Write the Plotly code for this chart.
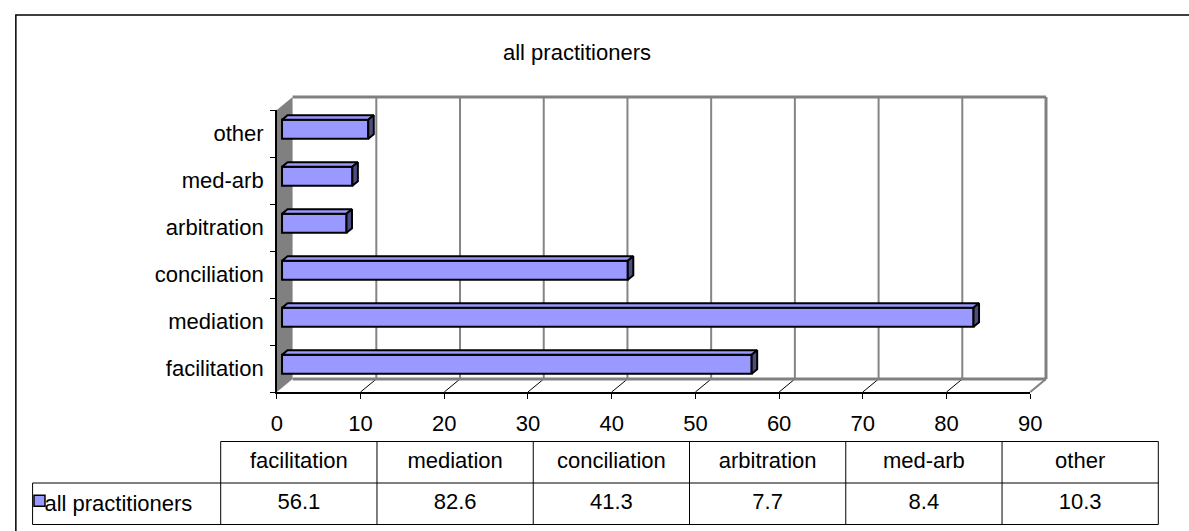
import plotly.graph_objects as go

# ---- data -------------------------------------------------------------
categories = ["facilitation", "mediation", "conciliation", "arbitration", "med-arb", "other"]
values = [56.1, 82.6, 41.3, 7.7, 8.4, 10.3]
series_name = "all practitioners"
x_ticks = [0, 10, 20, 30, 40, 50, 60, 70, 80, 90]

# ---- styling / geometry ------------------------------------------------
W, H = 1189, 531
FONT = "Liberation Sans, Arial, sans-serif"
FS = 22
BAR = "#9999FF"
BAR_SIDE = "#4D4D80"
WALL = "#808080"

PX0, PX1 = 275, 1040      # front plane: pixel x of value 0 and of the axis maximum
PY0, PY1 = 392, 110       # front plane: pixel y of the bottom and top category edges
XMAX = x_ticks[-1]
NCAT = len(categories)
SX = (PX1 - PX0) / XMAX   # pixels per value unit
SY = (PY0 - PY1) / NCAT   # pixels per category band

DX = 16 / SX              # full depth of the box, in axis units
DY = 13 / SY
BAR_T0, BAR_T1 = 0.33, 0.68   # bar front/back as fraction of depth
BAR_H = 19 / SY               # bar thickness in category units

# table grid
TX0, TW = 218, 158.67     # left edge of first data column, column width (px)
TY0, TH = 524.5, 41.5     # bottom of the table, row height (px)
LEGEND_W = (TX0 - 27) / TW

fig = go.Figure()


def line(xs, ys, color, width, axes=("x", "y")):
    fig.add_trace(go.Scatter(x=xs, y=ys, mode="lines", line=dict(color=color, width=width),
                             hoverinfo="skip", xaxis=axes[0], yaxis=axes[1]))


def poly(xs, ys, fill, outline=None, width=0, axes=("x", "y")):
    fig.add_trace(go.Scatter(x=xs + [xs[0]], y=ys + [ys[0]], mode="lines", fill="toself",
                             fillcolor=fill,
                             line=dict(color=outline or fill, width=width),
                             hoverinfo="skip", xaxis=axes[0], yaxis=axes[1]))


# ---- 3D box: left wall, floor, back wall ------------------------------
poly([0, 0, DX, DX], [0, NCAT, NCAT + DY, DY], WALL)
for v in x_ticks[1:-1]:
    line([v + DX, v + DX], [DY, NCAT + DY], "#858585", 2)
    line([v, v + DX], [0, DY], "black", 1)
line([DX, XMAX + DX], [DY, DY], WALL, 3)
line([DX, XMAX + DX], [NCAT + DY, NCAT + DY], WALL, 3)
line([XMAX + DX, XMAX + DX], [DY, NCAT + DY], WALL, 3)
line([XMAX, XMAX + DX], [0, DY], WALL, 2)

# ---- bars (front face + top + side) on the labelled axes ----------------
b0 = BAR_T0 * DX
ddx = (BAR_T1 - BAR_T0) * DX
ddy = (BAR_T1 - BAR_T0) * DY
centers = [i + 0.5 + BAR_T0 * DY for i in range(NCAT)]
fig.add_trace(go.Bar(y=centers, x=values, base=b0, orientation="h", width=BAR_H,
                     marker=dict(color=BAR, line=dict(color="black", width=2)),
                     hoverinfo="skip", xaxis="x2", yaxis="y2"))
for c, v in zip(centers, values):
    top, bot = c + BAR_H / 2, c - BAR_H / 2
    poly([b0, b0 + ddx, b0 + v + ddx, b0 + v], [top, top + ddy, top + ddy, top],
         BAR, "black", 2, axes=("x2", "y2"))
    poly([b0 + v, b0 + v + ddx, b0 + v + ddx, b0 + v], [bot, bot + ddy, top + ddy, top],
         BAR_SIDE, "black", 2, axes=("x2", "y2"))

# ---- data table ---------------------------------------------------------
ncol = len(categories)
line([0, ncol], [2, 2], "black", 1, axes=("x3", "y3"))
line([-LEGEND_W, ncol], [1, 1], "black", 1, axes=("x3", "y3"))
line([-LEGEND_W, ncol], [0, 0], "black", 1, axes=("x3", "y3"))
for j in range(ncol + 1):
    line([j, j], [0, 2], "black", 1, axes=("x3", "y3"))
line([-LEGEND_W, -LEGEND_W], [0, 1], "black", 1, axes=("x3", "y3"))

fig.add_trace(go.Scatter(x=[j + 0.5 for j in range(ncol)], y=[1.5] * ncol, mode="text",
                         text=categories, textposition="middle center",
                         textfont=dict(family=FONT, size=FS, color="black"),
                         hoverinfo="skip", xaxis="x3", yaxis="y3"))
fig.add_trace(go.Scatter(x=[j + 0.5 for j in range(ncol)], y=[0.5] * ncol, mode="text",
                         text=[f"{v:.1f}" for v in values], textposition="middle center",
                         textfont=dict(family=FONT, size=FS, color="black"),
                         hoverinfo="skip", xaxis="x3", yaxis="y3"))
fig.add_trace(go.Scatter(x=[-LEGEND_W + 7 / TW], y=[0.57], mode="markers",
                         marker=dict(symbol="square", size=11, color=BAR,
                                     line=dict(color="black", width=1.5)),
                         hoverinfo="skip", xaxis="x3", yaxis="y3"))
fig.add_trace(go.Scatter(x=[-LEGEND_W + 12 / TW], y=[0.45], mode="text",
                         text=[series_name], textposition="middle right",
                         textfont=dict(family=FONT, size=FS, color="black"),
                         hoverinfo="skip", xaxis="x3", yaxis="y3"))

# ---- axes ---------------------------------------------------------------
hidden = dict(visible=False, fixedrange=True)
fig.update_layout(
    width=W, height=H, margin=dict(l=0, r=0, t=0, b=0),
    paper_bgcolor="white", plot_bgcolor="rgba(0,0,0,0)", showlegend=False,
    font=dict(family=FONT, size=FS, color="black"),
    # box geometry axes, spanning the whole figure
    xaxis=dict(domain=[0, 1], range=[-PX0 / SX, (W - PX0) / SX], anchor="y", **hidden),
    yaxis=dict(domain=[0, 1], range=[(PY0 - H) / SY, PY0 / SY], anchor="x", **hidden),
    # value / category axes on the front plane
    xaxis2=dict(domain=[PX0 / W, PX1 / W], range=[0, XMAX], anchor="y2",
                tickvals=x_ticks, ticks="outside", ticklen=5, tickcolor="black",
                showline=True, linecolor="black", linewidth=1.5, showgrid=False,
                zeroline=False, ticklabelstandoff=6, fixedrange=True,
                tickfont=dict(family=FONT, size=FS)),
    yaxis2=dict(domain=[1 - PY0 / H, 1 - PY1 / H], range=[0, NCAT], anchor="x2",
                tickvals=[i + 0.5 for i in range(NCAT)], ticktext=categories, ticks="",
                minor=dict(tickvals=list(range(NCAT + 1)), ticks="outside", ticklen=5,
                           tickcolor="black"),
                showline=True, linecolor="black", linewidth=1.5, showgrid=False,
                zeroline=False, ticklabelstandoff=7, fixedrange=True,
                tickfont=dict(family=FONT, size=FS)),
    # table grid axes
    xaxis3=dict(domain=[0, 1], range=[-TX0 / TW, (W - TX0) / TW], anchor="y3", **hidden),
    yaxis3=dict(domain=[0, 1], range=[(TY0 - H) / TH, TY0 / TH], anchor="x3", **hidden),
    shapes=[dict(type="rect", xref="paper", yref="paper",
                 x0=10 / W, x1=1.02, y0=-0.05, y1=1 - 15 / H,
                 line=dict(color="black", width=1.5))],
    annotations=[dict(text=series_name, x=580 / W, y=1 - 52 / H, xref="paper", yref="paper",
                      xanchor="center", yanchor="middle", showarrow=False,
                      font=dict(family=FONT, size=FS))],
)

fig.write_html("out.html")
